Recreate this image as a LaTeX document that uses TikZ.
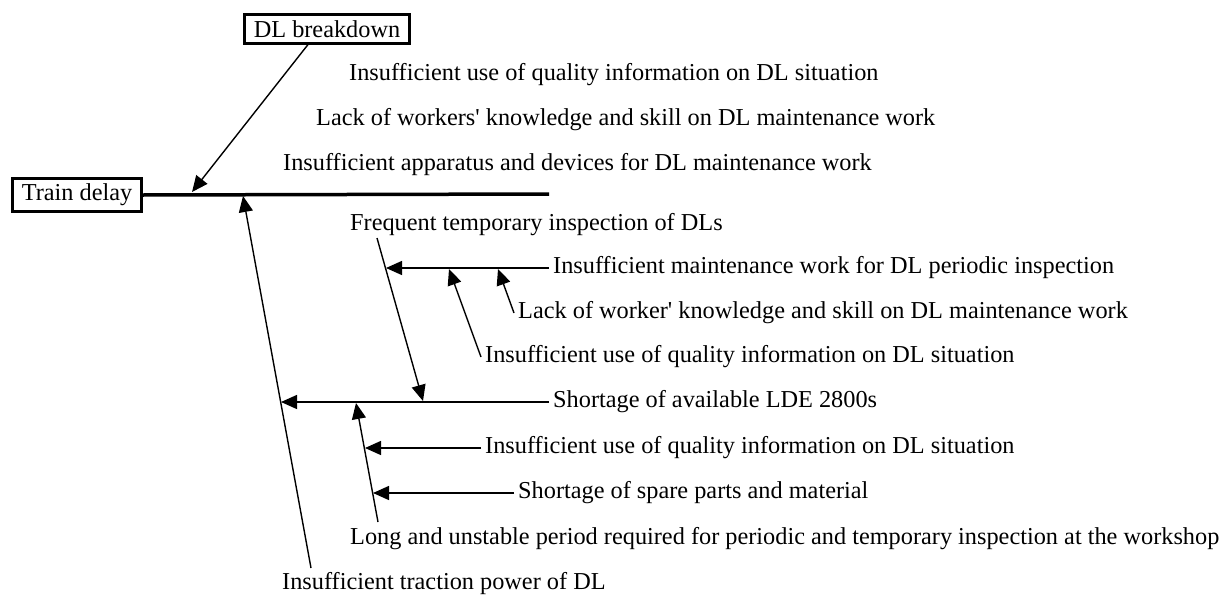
\documentclass[tikz,border=0pt]{standalone}
\usepackage{fontspec}
\setmainfont{Liberation Serif}
\usetikzlibrary{arrows.meta, positioning}

\begin{document}
\begin{tikzpicture}[
        x=1pt, y=-1pt,
        font=\fontsize{24.3}{29}\selectfont,
        box/.style={
            draw,
            line width=3pt,
            inner xsep=9pt,
            inner ysep=5.5pt
        },
        cause/.style={
            anchor=west,
            inner xsep=4pt,
            inner ysep=0pt
        },
        spine/.style={
            line width=3.5pt
        },
        arrow/.style={
            -{Triangle[length=16pt, width=14pt]},
            line width=1.4pt
        }
    ]
        \useasboundingbox (0,0) rectangle (1231,597);

        % Nodes
        \node[box] (delay) at (77,195) {Train delay};
        \node[box] (breakdown) at (327,29) {DL breakdown};

        \node[cause] (quality) at (345,75) {Insufficient use of quality information on DL situation};
        \node[cause] (lack) at (312,120) {Lack of workers\textquotesingle{} knowledge and skill on DL maintenance work};
        \node[cause] (apparatus) at (279,165) {Insufficient apparatus and devices for DL maintenance work};

        \node[cause] (frequent) at (346,225) {Frequent temporary inspection of DLs};
        \node[cause] (maint) at (549,268) {Insufficient maintenance work for DL periodic inspection};
        \node[cause] (worker) at (514,313) {Lack of worker\textquotesingle{} knowledge and skill on DL maintenance work};
        \node[cause] (qualityB) at (481,357) {Insufficient use of quality information on DL situation};
        \node[cause] (shortage) at (549,402) {Shortage of available LDE 2800s};
        \node[cause] (qualityC) at (481,448) {Insufficient use of quality information on DL situation};
        \node[cause] (spare) at (514,493) {Shortage of spare parts and material};
        \node[cause] (long) at (346,539) {Long and unstable period required for periodic and temporary inspection at the workshop};
        \node[cause] (traction) at (278,584) {Insufficient traction power of DL};

        % Points on the bones
        \coordinate (spineEnd) at (549,194);
        \coordinate (dlTip) at (192,192);
        \coordinate (tracEnd) at (311,568);
        \coordinate (tracTip) at (243,196);
        \coordinate (freqTop) at (377,238);
        \coordinate (freqTip) at (423,401);
        \coordinate (maintTip) at (386,268);
        \coordinate (qualBTip) at (449,269);
        \coordinate (workerTip) at (498,269);
        \coordinate (shortTip) at (281,402);
        \coordinate (longEnd) at (378,522);
        \coordinate (longTip) at (356,403);
        \coordinate (qualCTip) at (365,448);
        \coordinate (spareTip) at (373,493);

        % Edges
        \draw[spine] (delay.east) -- (spineEnd);
        \draw[arrow] ([xshift=-19pt]breakdown.south) -- (dlTip);
        \draw[arrow] (tracEnd) -- (tracTip);
        \draw[arrow] (freqTop) -- (freqTip);
        \draw[arrow] (maint.west) -- (maintTip);
        \draw[arrow] (qualityB.west) -- (qualBTip);
        \draw[arrow] (worker.west) -- (workerTip);
        \draw[arrow] (shortage.west) -- (shortTip);
        \draw[arrow] (longEnd) -- (longTip);
        \draw[arrow] (qualityC.west) -- (qualCTip);
        \draw[arrow] (spare.west) -- (spareTip);
    \end{tikzpicture}
\end{document}
